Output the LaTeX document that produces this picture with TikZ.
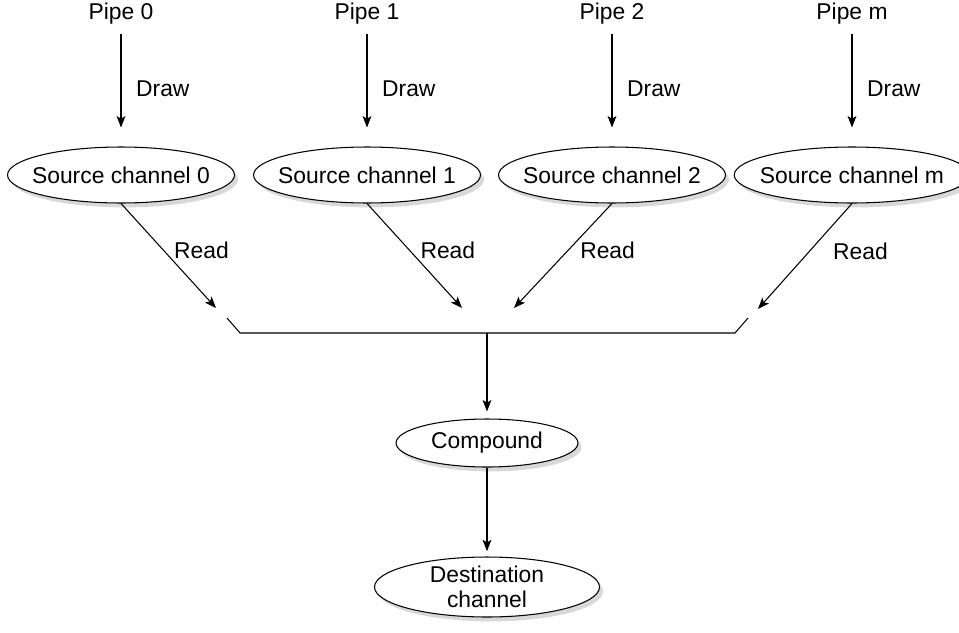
\documentclass[tikz,border=0pt]{standalone}
\usepackage{fontspec}
\setmainfont{Liberation Sans}
\usetikzlibrary{shapes.geometric,shadows,arrows.meta}

\begin{document}
\begin{tikzpicture}[>={Stealth[length=6.5pt,width=5pt,inset=1.5pt]},x=0.02cm,y=-0.02cm,line width=0.6pt]
\tikzstyle{txt}=[font=\fontsize{13}{14}\selectfont]%
\tikzstyle{chan}=[txt,ellipse,draw,fill=white,inner xsep=-5pt,inner ysep=0pt,minimum width=4.54cm,minimum height=1.12cm,drop shadow={shadow xshift=2pt,shadow yshift=-2.5pt,fill=black!30}]%
\useasboundingbox (0,0) rectangle (959,632);
% pipes and source channels
\foreach \n/\x in {0/121,1/367,2/612,m/852} {
\node[txt] (p\n) at (\x,14) {Pipe \n};
\node[chan] (s\n) at (\x,175) {Source channel \n};
\draw[->,shorten <=1.7pt,shorten >=10.8pt] (p\n) -- node[txt,right=5pt]{Draw} (s\n);
}
% read
\coordinate (r0) at (216,308);
\coordinate (r1) at (462,308);
\coordinate (r2) at (514,308);
\coordinate (rm) at (758,309);
\foreach \n/\d in {0/2.3pt,1/2.5pt,2/3.4pt,m/9.7pt} {
\draw[->] (s\n.south) -- node[txt,pos=0.45,right=\d]{Read} (r\n);
}
% bus
\coordinate (bl) at (227,318);
\coordinate (bl2) at (240,333);
\coordinate (bm) at (487,333);
\coordinate (br2) at (735,333);
\coordinate (br) at (748,318);
\draw (bl) -- (bl2) -- (br2) -- (br);
% compound and destination
\node[chan,minimum width=3.64cm,minimum height=0.96cm] (cmp) at (487,443) {Compound};
\node[chan,align=center,minimum width=4.5cm,minimum height=1.2cm] (dst) at (487,587) {Destination\\channel};
\draw[->,shorten >=4pt] (bm) -- (cmp);
\draw[->,shorten >=3pt] (cmp) -- (dst);
\end{tikzpicture}
\end{document}
